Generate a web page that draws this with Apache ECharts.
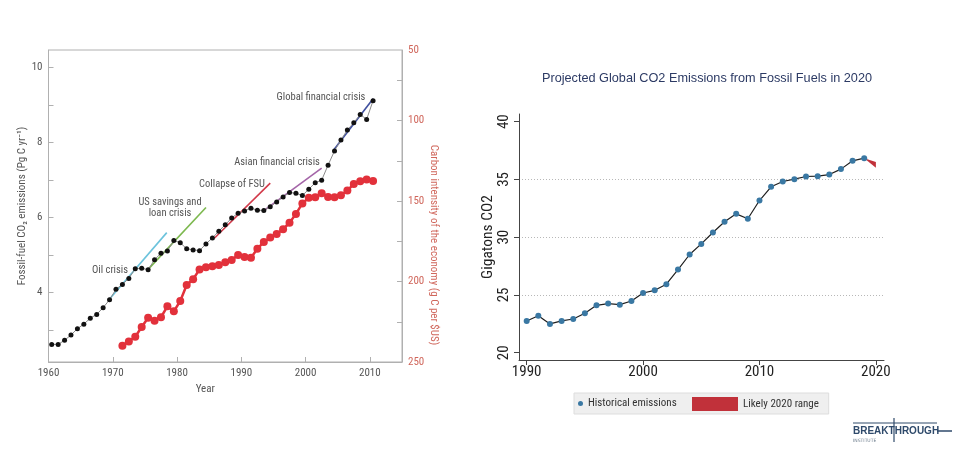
<!DOCTYPE html>
<html><head><meta charset="utf-8">
<script src="https://cdn.jsdelivr.net/npm/echarts@6/dist/echarts.min.js"></script>
<style>html,body{margin:0;padding:0;background:#fff}#c{width:980px;height:460px}</style>
</head><body><div id="c"></div>
<script>
// ---------- Left panel data (plotted at mid-year) ----------
const fossilYears = [1960,1961,1962,1963,1964,1965,1966,1967,1968,1969,1970,1971,1972,1973,1974,1975,1976,1977,1978,1979,1980,1981,1982,1983,1984,1985,1986,1987,1988,1989,1990,1991,1992,1993,1994,1995,1996,1997,1998,1999,2000,2001,2002,2003,2004,2005,2006,2007,2008,2009,2010];
const fossilEmissions = [2.61,2.61,2.72,2.86,3.03,3.15,3.31,3.41,3.59,3.80,4.08,4.21,4.37,4.63,4.64,4.60,4.87,5.04,5.10,5.38,5.32,5.16,5.13,5.11,5.29,5.45,5.63,5.80,5.98,6.11,6.17,6.24,6.19,6.18,6.28,6.41,6.54,6.66,6.64,6.58,6.75,6.92,6.99,7.39,7.77,8.06,8.33,8.52,8.74,8.61,9.11];
const intensityYears = [1971,1972,1973,1974,1975,1976,1977,1978,1979,1980,1981,1982,1983,1984,1985,1986,1987,1988,1989,1990,1991,1992,1993,1994,1995,1996,1997,1998,1999,2000,2001,2002,2003,2004,2005,2006,2007,2008,2009,2010];
const carbonIntensity = [239.9,237.2,234.3,228.3,222.5,224.3,222.2,215.4,218.5,212.1,202.2,198.6,192.5,191.2,190.6,189.8,188.0,186.6,183.6,184.8,185.2,179.6,175.5,172.6,170.5,167.5,163.5,158.0,151.5,148.0,147.7,145.2,147.5,147.7,146.4,143.5,139.4,137.8,136.6,137.5];
const leftXTicks = [1960,1970,1980,1990,2000,2010];
const leftYTicks = [4,6,8,10];
const leftYMinor = [3,4,5,6,7,8,9,10];
const rightYTicks = [50,100,150,200,250];
const rightYMinor = [75,100,125,150,175,200,225,250];
const crisisNames = ['Oil crisis','US savings and loan crisis','Collapse of FSU','Asian financial crisis','Global financial crisis'];
const crisisStart = [[1969.5,3.82],[1975.5,4.61],[1985.8,5.44],[1993.6,6.19],[2004.4,7.80]];
const crisisEnd   = [[1978.4,5.59],[1984.5,6.26],[1994.5,6.91],[2002.5,7.31],[2010.5,9.16]];
const crisisColors = ['#6cc3dc','#7cb84e','#d23a4a','#a465a8','#3f4f9e'];

// ---------- Right panel data ----------
const histYears = [1990,1991,1992,1993,1994,1995,1996,1997,1998,1999,2000,2001,2002,2003,2004,2005,2006,2007,2008,2009,2010,2011,2012,2013,2014,2015,2016,2017,2018,2019];
const histEmissions = [22.75,23.2,22.49,22.75,22.92,23.41,24.1,24.25,24.16,24.48,25.17,25.4,25.93,27.2,28.5,29.42,30.4,31.33,32.02,31.59,33.17,34.36,34.82,35.02,35.25,35.28,35.42,35.89,36.61,36.84];
const rangeYear = 2020;
const range2020 = [36.0, 36.5];
const rXTicks = [1990,2000,2010,2020];
const rYTicks = [20,25,30,35,40];

const chart = echarts.init(document.getElementById('c'), null, {renderer:'canvas'});
const LF = '"Roboto Condensed", "DejaVu Sans Condensed", Lato, sans-serif';
const RF = 'Liberation Sans';
const RN = '"Liberation Sans Narrow", "Roboto Condensed", "DejaVu Sans Condensed", "Liberation Sans", sans-serif';
const txt = '#555', redTxt = '#d0675c';
const plain = v => String(v);

const series = [];
crisisNames.forEach((n,i)=>{
  series.push({name:n, type:'line', xAxisIndex:0, yAxisIndex:0, data:[crisisStart[i],crisisEnd[i]],
    showSymbol:false, silent:true, lineStyle:{color:crisisColors[i], width:1.6}, z:2});
});
series.push({name:'Fossil-fuel emissions', type:'line', xAxisIndex:0, yAxisIndex:0,
  data: fossilYears.map((y,i)=>[y+0.5, fossilEmissions[i]]),
  symbol:'circle', symbolSize:5, itemStyle:{color:'#111'}, lineStyle:{color:'#8a8a8a', width:1}, z:4});
series.push({name:'Carbon intensity', type:'line', xAxisIndex:0, yAxisIndex:1,
  data: intensityYears.map((y,i)=>[y+0.5, carbonIntensity[i]]),
  symbol:'circle', symbolSize:8, itemStyle:{color:'#e2313b'}, lineStyle:{color:'#e2313b', width:2.5}, z:3});
series.push({name:'Historical emissions', type:'line', xAxisIndex:1, yAxisIndex:3,
  data: histYears.map((y,i)=>[y, histEmissions[i]]),
  symbol:'circle', symbolSize:6, itemStyle:{color:'#3a78a3'}, lineStyle:{color:'#1f1f1f', width:1.2}, z:4});
const lastIdx = histYears.length-1;
series.push({name:'Likely 2020 range', type:'custom', xAxisIndex:1, yAxisIndex:3,
  itemStyle:{color:'#c1313a'},
  encode:{x:[0,2], y:[1,3,4]},
  data:[[histYears[lastIdx], histEmissions[lastIdx], rangeYear, range2020[0], range2020[1]]],
  renderItem:(params, api)=>{
    const p0 = api.coord([api.value(0), api.value(1)]);
    const pl = api.coord([api.value(2), api.value(3)]);
    const ph = api.coord([api.value(2), api.value(4)]);
    return {type:'polygon', shape:{points:[p0, ph, pl]}, style:{fill:'#c1313a'}};
  }, z:3});

const ann = (t,x,y)=>({type:'text', x:x, y:y, style:{text:t, fontFamily:LF, fontWeight:'normal', fontSize:10.5, fill:txt, textAlign:'center', textVerticalAlign:'middle'}});

chart.setOption({
  animation:false,
  textStyle:{fontFamily:LF, fontWeight:'normal'},
  title:{text:'Projected Global CO2 Emissions from Fossil Fuels in 2020', left:702, top:67, textAlign:'center',
    textStyle:{fontFamily:RF, fontSize:12.7, fontWeight:'normal', color:'#2c3a64'}},
  grid:[
    {left:48.5, right:578, top:50, bottom:98, show:true, borderColor:'#b0b0b0', borderWidth:1, backgroundColor:'transparent'},
    {left:519, right:96, top:114, bottom:100}
  ],
  xAxis:[
    {gridIndex:0, type:'value', min:1960, max:2015,
      axisLine:{lineStyle:{color:'#b0b0b0'}},
      axisTick:{inside:true, length:5, customValues:leftXTicks, lineStyle:{color:'#b0b0b0'}},
      axisLabel:{customValues:leftXTicks, formatter:plain, color:txt, fontSize:11, margin:6, fontFamily:LF},
      splitLine:{show:false},
      name:'Year', nameLocation:'middle', nameGap:20, nameTextStyle:{color:txt, fontSize:11, padding:[0,40,0,0], fontFamily:LF}},
    {gridIndex:1, type:'value', min:1989.34, max:2020.7,
      axisLine:{lineStyle:{color:'#444'}},
      axisTick:{length:5, customValues:rXTicks, lineStyle:{color:'#444'}},
      axisLabel:{customValues:rXTicks, formatter:plain, color:'#222', fontSize:15, margin:5, fontFamily:RN},
      splitLine:{show:false}}
  ],
  yAxis:[
    {gridIndex:0, type:'value', min:2.14, max:10.46,
      axisLine:{show:true, lineStyle:{color:'#b0b0b0'}},
      axisTick:{show:true, inside:true, length:5, customValues:leftYMinor, lineStyle:{color:'#b0b0b0'}},
      axisLabel:{customValues:leftYTicks, formatter:plain, color:txt, fontSize:11, margin:6, fontFamily:LF},
      splitLine:{show:false},
      name:'Fossil-fuel CO\u2082 emissions (Pg C yr\u207B\u00B9)', nameLocation:'middle', nameGap:18,
      nameTextStyle:{color:txt, fontSize:11, fontFamily:LF}},
    {gridIndex:0, type:'value', position:'right', inverse:true, min:56.2, max:250,
      axisLine:{show:true, lineStyle:{color:'#b0b0b0'}},
      axisTick:{show:true, inside:true, length:5, customValues:rightYMinor, lineStyle:{color:'#b0b0b0'}},
      axisLabel:{customValues:rightYTicks, formatter:plain, color:redTxt, fontSize:11, margin:6, fontFamily:LF},
      splitLine:{show:false}},
    {gridIndex:0, type:'value', position:'right', inverse:true, min:50, max:250,
      axisLine:{show:false}, axisTick:{show:false},
      axisLabel:{customValues:[rightYTicks[0]], formatter:plain, color:redTxt, fontSize:11, margin:6, fontFamily:LF, padding:[6,0,0,0]},
      splitLine:{show:false}},
    {gridIndex:1, type:'value', min:19.37, max:40.66,
      axisLine:{show:true, lineStyle:{color:'#444'}},
      axisTick:{show:true, length:5, customValues:rYTicks, lineStyle:{color:'#444'}},
      axisLabel:{customValues:rYTicks, formatter:plain, rotate:90, color:'#222', fontSize:15, margin:7, fontFamily:RN},
      splitLine:{show:true, showMinLine:false, showMaxLine:false, lineStyle:{color:'#b8b8b8', type:[1,2], width:1}},
      name:'Gigatons CO2', nameLocation:'middle', nameGap:22,
      nameTextStyle:{color:'#222', fontSize:15.5, fontFamily:RN}}
  ],
  legend:[
    {data:[{name:'Historical emissions', icon:'circle'}], left:574, top:393, orient:'horizontal',
      itemWidth:5, itemHeight:5, itemGap:0, itemTextGap:6, selectedMode:false,
      backgroundColor:'#efefef', borderColor:'#dddddd', borderWidth:1, borderRadius:0,
      padding:[5,152,5,4], textStyle:{fontFamily:RN, fontSize:11, color:'#333'}},
    {data:[{name:'Likely 2020 range', icon:'rect'}], left:688, top:393, orient:'horizontal',
      itemWidth:46, itemHeight:14, itemTextGap:7, selectedMode:false, padding:[4,4,4,4],
      textStyle:{fontFamily:RN, fontSize:11, color:'#333'}}
  ],
  graphic:[
    ann('Oil crisis',110,270),
    ann('US savings and',170,202),
    ann('loan crisis',170,213),
    ann('Collapse of FSU',232,184),
    ann('Asian financial crisis',277,162),
    ann('Global financial crisis',321,97),
    {type:'text', x:434, y:245, rotation:-Math.PI/2,
      style:{text:'Carbon intensity of the economy (g C per $US)', fontFamily:LF, fontWeight:'normal', fontSize:11, fill:redTxt, textAlign:'center', textVerticalAlign:'middle'}},
    // Breakthrough Institute wordmark
    {type:'line', shape:{x1:853,y1:423,x2:937,y2:423}, style:{stroke:'#2f4a6b', lineWidth:1}},
    {type:'line', shape:{x1:937,y1:431,x2:952,y2:431}, style:{stroke:'#2f4a6b', lineWidth:1.5}},
    {type:'line', shape:{x1:894,y1:418,x2:894,y2:442}, style:{stroke:'#2f4a6b', lineWidth:1.2}},
    {type:'text', x:853, y:431, style:{text:'BREAKTHROUGH', fontFamily:'Liberation Sans', fontWeight:'bold', fontSize:10, fill:'#2f4a6b', textVerticalAlign:'middle'}},
    {type:'text', x:853, y:441, style:{text:'INSTITUTE', fontFamily:'DejaVu Sans', fontSize:4.5, fill:'#6a7a8a', textVerticalAlign:'middle'}}
  ],
  series: series
});
</script></body></html>
